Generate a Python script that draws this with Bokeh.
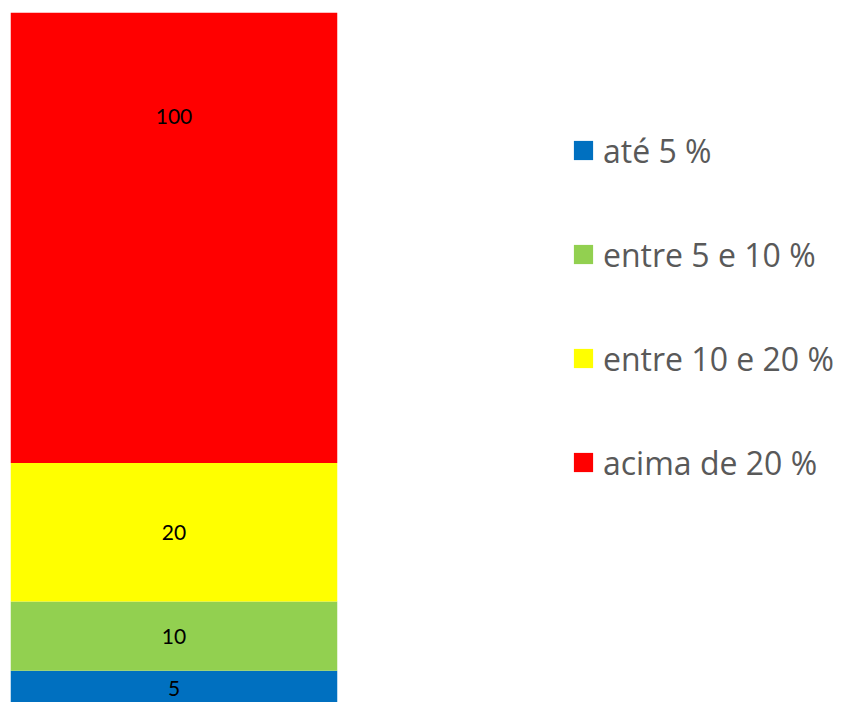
from bokeh.plotting import figure
from bokeh.models import ColumnDataSource, Range1d, Legend, LegendItem
from bokeh.core.properties import value
from bokeh.embed import file_html
from bokeh.resources import INLINE

category = ["total"]
series_names = ["até 5 %", "entre 5 e 10 %", "entre 10 e 20 %", "acima de 20 %"]
series_values = [5, 10, 20, 100]
series_colors = ["#0070C0", "#92D050", "#FFFF00", "#FF0000"]
keys = ["s0", "s1", "s2", "s3"]

data = {"cat": category}
for k, v in zip(keys, series_values):
    data[k] = [v]
src = ColumnDataSource(data)

p = figure(x_range=category, y_range=Range1d(0.43, 100), width=842, height=702,
           frame_width=327, frame_height=690,
           min_border_left=10, min_border_top=12, min_border_bottom=0, min_border_right=0,
           output_backend="svg", toolbar_location=None)
p.x_range.range_padding = 0
p.axis.visible = False
p.grid.visible = False
p.outline_line_color = None

rends = p.vbar_stack(keys, x="cat", width=1.0, source=src, color=series_colors, line_color=None)

# labels at center of each segment
bottoms = []
acc = 0
for v in series_values:
    bottoms.append(acc + v / 2)
    acc += v
lab_src = ColumnDataSource(dict(x=[category[0]] * len(series_values), y=bottoms,
                                t=[str(v) for v in series_values]))
p.text(x="x", y="y", text="t", source=lab_src, text_align="center", text_baseline="middle",
       text_font=value("Lato"), text_font_size="21px", text_color="#000000")

items = [LegendItem(label=n, renderers=[r]) for n, r in zip(series_names, rends)]
legend = Legend(items=items, location=(234, 215), orientation="vertical",
                glyph_width=24, glyph_height=24, label_height=50, label_text_font="Open Sans",
                label_text_font_size="32px", label_text_color="#595959",
                label_text_baseline="middle",
                label_standoff=8, spacing=54, padding=0, margin=0,
                border_line_color=None, background_fill_alpha=0)
p.add_layout(legend, "right")
p.min_border_right = 505

open("out.html", "w").write(file_html(p, INLINE))
